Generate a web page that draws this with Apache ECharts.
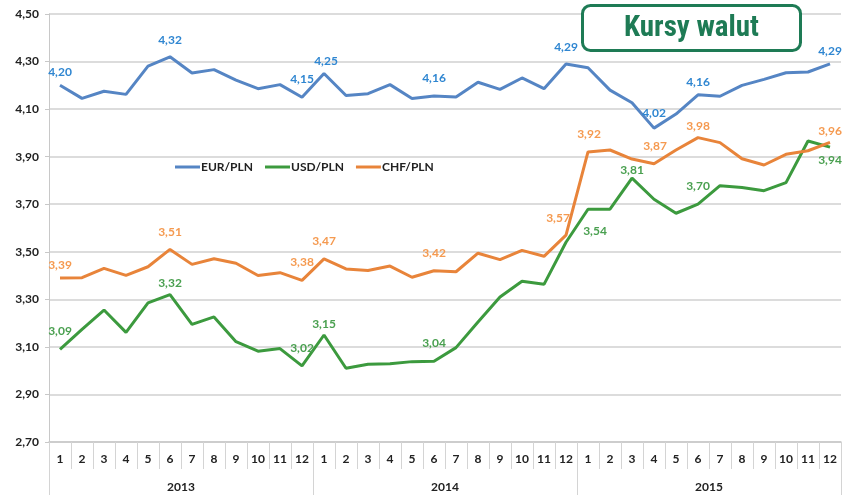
<!DOCTYPE html>
<html>
<head>
<meta charset="utf-8">
<script src="https://cdn.jsdelivr.net/npm/echarts@6/dist/echarts.min.js"></script>
<style>
  html, body { margin: 0; padding: 0; background: #fff; }
  #chart { width: 842px; height: 495px; }
</style>
</head>
<body>
<div id="chart"></div>
<script>
// kategorie
const months = [
  "1", "2", "3", "4", "5", "6", "7", "8", "9", "10", "11", "12",
  "1", "2", "3", "4", "5", "6", "7", "8", "9", "10", "11", "12",
  "1", "2", "3", "4", "5", "6", "7", "8", "9", "10", "11", "12"
];
const years = ["2013", "2014", "2015"];
const yTicks = [2.7, 2.9, 3.1, 3.3, 3.5, 3.7, 3.9, 4.1, 4.3, 4.5];

// kursy
const eurPln = [
  4.20, 4.145, 4.175, 4.162, 4.281, 4.32, 4.252, 4.266, 4.222, 4.186, 4.203, 4.15,
  4.25, 4.157, 4.165, 4.203, 4.145, 4.155, 4.151, 4.213, 4.183, 4.231, 4.186, 4.29,
  4.274, 4.18, 4.127, 4.02, 4.079, 4.16, 4.154, 4.20, 4.225, 4.253, 4.256, 4.29
];
const usdPln = [
  3.09, 3.174, 3.255, 3.161, 3.285, 3.32, 3.195, 3.226, 3.122, 3.082, 3.093, 3.02,
  3.15, 3.01, 3.027, 3.029, 3.038, 3.04, 3.097, 3.205, 3.31, 3.376, 3.363, 3.54,
  3.679, 3.679, 3.81, 3.721, 3.662, 3.70, 3.778, 3.77, 3.757, 3.791, 3.966, 3.94
];
const chfPln = [
  3.39, 3.391, 3.43, 3.401, 3.437, 3.51, 3.447, 3.471, 3.452, 3.40, 3.412, 3.38,
  3.47, 3.428, 3.421, 3.44, 3.393, 3.42, 3.416, 3.494, 3.467, 3.506, 3.481, 3.57,
  3.92, 3.928, 3.89, 3.87, 3.928, 3.98, 3.959, 3.891, 3.865, 3.91, 3.925, 3.96
];

// które punkty mają etykiety: [indeks, przesunięcie x, przesunięcie y]
const eurLabels = [[0, 0, -13], [5, 0, -17], [11, 0, -18], [12, 2, -12], [17, 0, -18],
  [23, 0, -17], [27, 0, -15], [29, 0, -13], [35, 0, -13]];
const usdLabels = [[0, 0, -18], [5, 0, -11], [11, 0, -18], [12, 0, -11], [17, 0, -18],
  [23, 29, -11], [26, 0, -8], [29, 0, -18], [35, 0, 13]];
const chfLabels = [[0, 0, -13], [5, 0, -17], [11, 0, -18], [12, 0, -18], [17, 0, -18],
  [23, -8, -17], [24, 1, -18], [27, 1, -18], [29, 0, -12], [35, 0, -11]];

// oś Y od 2,70 - wartości przesunięte, żeby podziałka zaczynała się od zera
const base = yTicks[0];
const fmt = v => v.toFixed(2).replace(".", ",");

function buildData(values, labels, color) {
  return values.map((v, i) => {
    const lab = labels.find(l => l[0] === i);
    const item = { value: +(v - base).toFixed(4) };
    if (lab) {
      item.label = {
        show: true,
        position: "inside",
        formatter: fmt(v),
        color: color,
        fontSize: 12,
        fontWeight: "bold",
        fontFamily: "Lato, 'Open Sans', sans-serif"
      };
    }
    return item;
  });
}

function lineSeries(name, values, labels, lineColor, labelColor) {
  return {
    name: name,
    type: "line",
    symbol: "circle",
    symbolSize: 0,
    showSymbol: true,
    showAllSymbol: true,
    color: lineColor,
    lineStyle: { width: 3, color: lineColor },
    itemStyle: { color: lineColor },
    // etykiety przesunięte jak na oryginale
    labelLayout: function (params) {
      const lab = labels.find(l => l[0] === params.dataIndex);
      return lab ? { dx: lab[1], dy: lab[2], hideOverlap: false } : {};
    },
    data: buildData(values, labels, labelColor)
  };
}

const chart = echarts.init(document.getElementById("chart"));
const option = {
  animation: false,
  grid: { left: 49, right: 1, top: 14, bottom: 53 },
  graphic: [
    {
      type: "group",
      right: 40,
      top: 4,
      children: [
        {
          type: "rect",
          shape: { x: 0, y: 0, width: 218, height: 45, r: 8 },
          style: { fill: "#fff", stroke: "#1E7B55", lineWidth: 3 },
          z: 100
        },
        {
          type: "text",
          x: 109,
          y: 23,
          style: {
            text: "Kursy walut",
            fill: "#1E7B55",
            font: "bold 29px 'Liberation Sans Narrow', 'Roboto Condensed', Arial, sans-serif",
            align: "center",
            verticalAlign: "middle"
          },
          z: 101
        }
      ]
    }
  ],
  legend: {
    left: 175,
    top: 161,
    padding: 0,
    icon: "rect",
    itemWidth: 25,
    itemHeight: 3,
    itemGap: 12,
    textStyle: {
      color: "#222",
      fontSize: 12,
      fontWeight: "bold",
      fontFamily: "Lato, 'Open Sans', sans-serif",
      padding: [0, 0, 0, -4]
    },
    data: ["EUR/PLN", "USD/PLN", "CHF/PLN"]
  },
  xAxis: [
    {
      type: "category",
      data: months,
      boundaryGap: true,
      axisLine: { show: true, lineStyle: { color: "#c8c8c8", width: 1.5 } },
      axisTick: { show: true, interval: 0, length: 27, lineStyle: { color: "#d4d4d4" } },
      axisLabel: {
        interval: 0,
        margin: 11,
        color: "#222",
        fontSize: 12,
        fontWeight: "bold",
        fontFamily: "Lato, 'Open Sans', sans-serif"
      }
    },
    {
      type: "category",
      data: years,
      position: "bottom",
      boundaryGap: true,
      axisLine: { show: false },
      axisTick: { show: true, interval: 0, length: 53, lineStyle: { color: "#d4d4d4" } },
      axisLabel: {
        interval: 0,
        margin: 39,
        color: "#222",
        fontSize: 12,
        fontWeight: "bold",
        fontFamily: "Lato, 'Open Sans', sans-serif"
      }
    }
  ],
  yAxis: {
    type: "value",
    min: 0,
    max: yTicks[yTicks.length - 1] - base,
    interval: 0.2,
    axisLine: { show: true, lineStyle: { color: "#c8c8c8" } },
    axisTick: { show: true, length: 4, lineStyle: { color: "#c8c8c8" } },
    splitLine: { show: true, lineStyle: { color: "#d0d0d0", width: 1.5 } },
    axisLabel: {
      margin: 10,
      color: "#222",
      fontSize: 12,
      fontWeight: "bold",
      fontFamily: "Lato, 'Open Sans', sans-serif",
      formatter: v => fmt(v + base)
    }
  },
  series: [
    lineSeries("EUR/PLN", eurPln, eurLabels, "#5585C4", "#2F86D1"),
    lineSeries("USD/PLN", usdPln, usdLabels, "#3C9A3E", "#4AA050"),
    lineSeries("CHF/PLN", chfPln, chfLabels, "#E8843A", "#F59A50")
  ]
};
chart.setOption(option);
</script>
</body>
</html>
